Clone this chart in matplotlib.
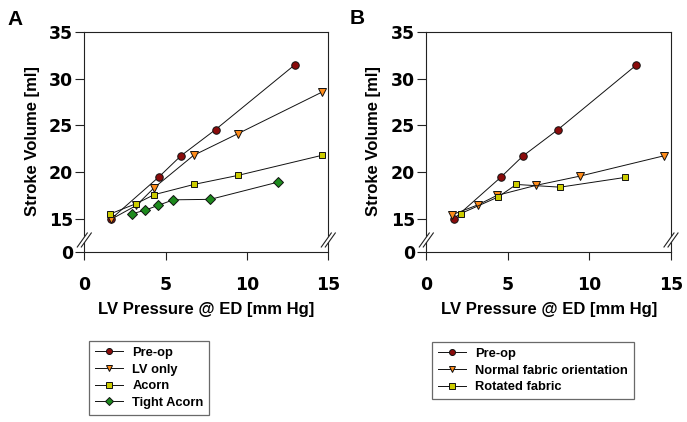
import matplotlib
matplotlib.use("Agg")
import matplotlib.pyplot as plt
import numpy as np
from matplotlib.lines import Line2D

# ---------------- data ----------------
# Panel A
a_preop_x = [1.64, 4.59, 5.94, 8.07, 12.93]
a_preop_y = [15.0, 19.5, 21.75, 24.55, 31.45]
a_lv_x = [1.64, 3.2, 4.3, 6.72, 9.43, 14.61]
a_lv_y = [14.85, 16.45, 18.35, 21.8, 24.1, 28.55]
a_acorn_x = [1.6, 3.2, 4.3, 6.76, 9.43, 14.61]
a_acorn_y = [15.55, 16.65, 17.6, 18.7, 19.65, 21.8]
a_tight_x = [2.93, 3.75, 4.53, 5.47, 7.75, 11.93]
a_tight_y = [15.55, 15.95, 16.45, 17.05, 17.1, 18.95]

# Panel B
b_preop_x = [1.68, 4.58, 5.91, 8.05, 12.88]
b_preop_y = [15.0, 19.48, 21.71, 24.52, 31.45]
b_normal_x = [1.59, 3.19, 4.33, 6.74, 9.42, 14.57]
b_normal_y = [15.46, 16.53, 17.52, 18.6, 19.58, 21.75]
b_rot_x = [2.1, 4.39, 5.52, 8.2, 12.18]
b_rot_y = [15.57, 17.34, 18.69, 18.4, 19.44]

x_ticks = [0, 5, 10, 15]
y_ticks = [0, 15, 20, 25, 30, 35]

labels_a = ["Pre-op", "LV only", "Acorn", "Tight Acorn"]
labels_b = ["Pre-op", "Normal fabric orientation", "Rotated fabric"]

# ---------------- style ----------------
C_RED = "#8a0b0b"
C_ORANGE = "#ff8c1a"
C_YELLOW = "#cccc00"
C_GREEN = "#1e8a1e"

plt.rcParams['font.family'] = ['Liberation Sans', 'DejaVu Sans']

W, H = 687, 422
fig = plt.figure(figsize=(W / 100, H / 100), dpi=100)

# broken y scale: 15..35 linear, 0..15 compressed
BREAK = 15.0
COMP = 0.2348


def fwd(v):
    v = np.asarray(v, dtype=float)
    return np.where(v >= BREAK, v, BREAK - (BREAK - v) * COMP)


def inv(u):
    u = np.asarray(u, dtype=float)
    return np.where(u >= BREAK, u, BREAK - (BREAK - u) / COMP)


def setup(ax, label_x):
    ax.set_yscale('function', functions=(fwd, inv))
    ax.set_xlim(0, 15)
    ax.set_ylim(0, 35)
    ax.set_xticks(x_ticks)
    ax.set_yticks(y_ticks)
    ax.set_xticklabels([str(t) for t in x_ticks])
    ax.set_yticklabels([str(t) for t in y_ticks])
    ax.minorticks_off()
    for s in ax.spines.values():
        s.set_linewidth(0.8)
        s.set_color('#222222')
    ax.tick_params(axis='y', direction='out', length=6.5, width=0.8, pad=1.5,
                   labelsize=12.5, color='#222222')
    ax.tick_params(axis='x', direction='out', length=5.5, width=0.8, pad=12,
                   labelsize=12.5, color='#222222')
    for lab in ax.get_xticklabels() + ax.get_yticklabels():
        lab.set_fontfamily('DejaVu Sans')
        lab.set_fontweight('bold')
    ax.set_xlabel("LV Pressure @ ED [mm Hg]", fontsize=12, fontweight='bold')
    ax.set_ylabel("Stroke Volume [ml]", fontsize=12, fontweight='bold')
    ax.xaxis.label.set_va('center')
    ax.yaxis.label.set_va('center')
    ax.xaxis.set_label_coords(0.5, -0.263)
    ax.yaxis.set_label_coords(label_x, 0.505)
    # break marks on both vertical spines
    bw = 10 / 244.0
    bh = 14 / 220.0
    gap = 4 / 244.0
    yc = 12 / 220.0
    for xc in (0.0, 1.0):
        poly = plt.Polygon([[xc - bw / 2 - gap / 2, yc - bh / 2],
                            [xc - bw / 2 + gap / 2, yc - bh / 2],
                            [xc + bw / 2 + gap / 2, yc + bh / 2],
                            [xc + bw / 2 - gap / 2, yc + bh / 2]],
                           closed=True, transform=ax.transAxes,
                           facecolor='white', edgecolor='none',
                           clip_on=False, zorder=5)
        ax.add_patch(poly)
        for off in (-gap / 2, gap / 2):
            ax.add_line(Line2D([xc - bw / 2 + off, xc + bw / 2 + off],
                               [yc - bh / 2, yc + bh / 2],
                               transform=ax.transAxes, color='#222222',
                               lw=0.8, clip_on=False, zorder=6))


def series(ax, x, y, marker, color, ms, label):
    ax.plot(x, y, color='#111111', lw=0.7, marker=marker, markersize=ms,
            markerfacecolor=color, markeredgecolor='#111111',
            markeredgewidth=0.7, label=label, clip_on=False)


# Panel A
axA = fig.add_axes([84.3 / W, 1 - 252 / H, 244 / W, 220.3 / H])
setup(axA, -0.214)
series(axA, a_preop_x, a_preop_y, 'o', C_RED, 5.4, labels_a[0])
series(axA, a_lv_x, a_lv_y, 'v', C_ORANGE, 5.8, labels_a[1])
series(axA, a_acorn_x, a_acorn_y, 's', C_YELLOW, 5.0, labels_a[2])
series(axA, a_tight_x, a_tight_y, 'D', C_GREEN, 4.8, labels_a[3])

# Panel B
axB = fig.add_axes([426.3 / W, 1 - 252 / H, 244.7 / W, 220.3 / H])
setup(axB, -0.214)
series(axB, b_preop_x, b_preop_y, 'o', C_RED, 5.4, labels_b[0])
series(axB, b_normal_x, b_normal_y, 'v', C_ORANGE, 5.8, labels_b[1])
series(axB, b_rot_x, b_rot_y, 's', C_YELLOW, 5.0, labels_b[2])

legkw = dict(loc='upper left', frameon=True, fancybox=False,
             handlelength=2.2, handletextpad=0.7, labelspacing=0.36,
             borderpad=0.45, borderaxespad=0.0, markerscale=0.8,
             prop={'family': 'Liberation Sans', 'weight': 'bold', 'size': 9.3})
legA = axA.legend(bbox_to_anchor=(89 / W, 1 - 341 / H),
                  bbox_transform=fig.transFigure, **legkw)
legB = axB.legend(bbox_to_anchor=(431.7 / W, 1 - 342 / H),
                  bbox_transform=fig.transFigure, **legkw)
for leg in (legA, legB):
    fr = leg.get_frame()
    fr.set_edgecolor('#444444')
    fr.set_linewidth(0.9)

fig.text(7 / W, 1 - 25 / H, "A", fontsize=15, fontweight='bold', va='baseline', ha='left')
fig.text(350 / W, 1 - 24.5 / H, "B", fontsize=15, fontweight='bold', va='baseline', ha='left')

fig.savefig("out.png", dpi=100)
